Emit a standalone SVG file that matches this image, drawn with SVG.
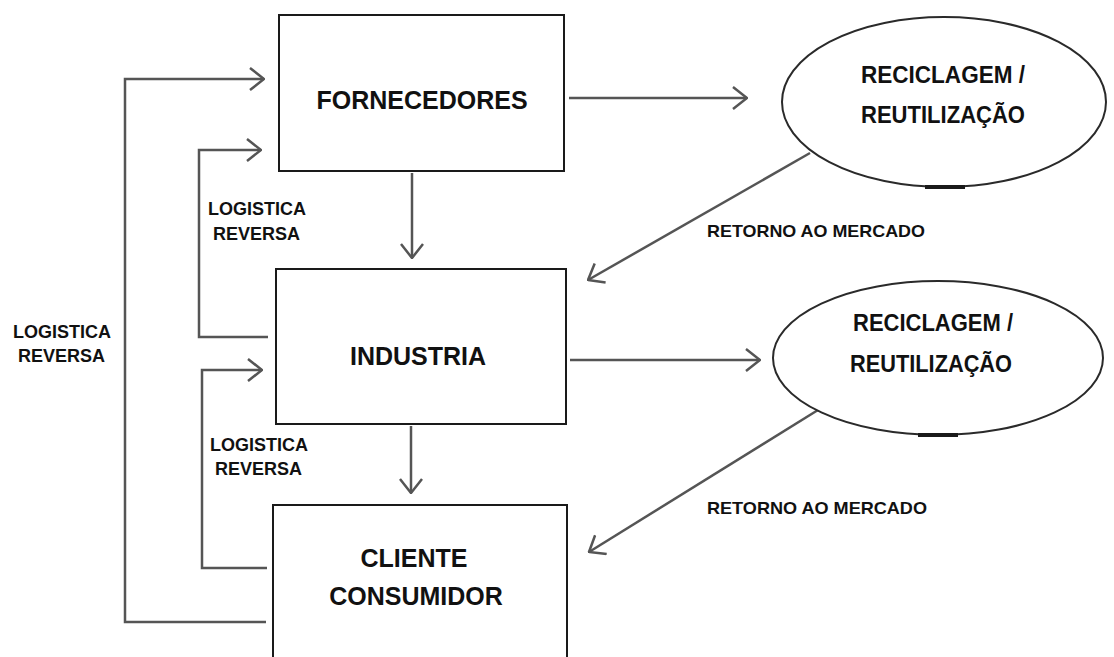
<svg xmlns="http://www.w3.org/2000/svg" width="1114" height="657" viewBox="0 0 1114 657">
  <defs>
    <style>
      .box { fill: #ffffff; stroke: #1a1a1a; stroke-width: 2; }
      .ell { fill: #ffffff; stroke: #2a2a2a; stroke-width: 2; }
      .conn { fill: none; stroke: #555555; stroke-width: 2.5; }
      .big { font-family: "Liberation Sans", Arial, sans-serif; font-weight: bold; font-size: 25px; fill: #111111; text-anchor: middle; }
      .ellt { font-family: "Liberation Sans", Arial, sans-serif; font-weight: bold; font-size: 24px; fill: #111111; text-anchor: middle; }
      .lbl { font-family: "Liberation Sans", Arial, sans-serif; font-weight: bold; font-size: 18px; fill: #111111; }
      .ret { font-family: "Liberation Sans", Arial, sans-serif; font-weight: bold; font-size: 17px; fill: #111111; }
    </style>
    <marker id="arr" markerUnits="userSpaceOnUse" viewBox="0 0 16 24" refX="15" refY="12" markerWidth="16" markerHeight="24" orient="auto">
      <path d="M1,1 L15,12 L1,23" fill="none" stroke="#555555" stroke-width="2.5"/>
    </marker>
  </defs>
  <rect width="1114" height="657" fill="#ffffff"/>

  <g id="connectors">
    <path class="conn" d="M266,622 H125 V79 H264" marker-end="url(#arr)"/>
    <path class="conn" d="M268,337 H199 V150 H261" marker-end="url(#arr)"/>
    <path class="conn" d="M267,568 H202 V370 H262" marker-end="url(#arr)"/>
    <path class="conn" d="M412,173 V258" marker-end="url(#arr)"/>
    <path class="conn" d="M411,426 V493" marker-end="url(#arr)"/>
    <path class="conn" d="M569,98 H747" marker-end="url(#arr)"/>
    <path class="conn" d="M570,360 H760" marker-end="url(#arr)"/>
    <path class="conn" d="M810,153 L588,280" marker-end="url(#arr)"/>
    <path class="conn" d="M818,410 L589,552" marker-end="url(#arr)"/>
  </g>

  <g id="fornecedores">
    <rect class="box" x="279" y="15" width="285" height="156"/>
    <text class="big" x="422" y="109">FORNECEDORES</text>
  </g>

  <g id="industria">
    <rect class="box" x="276" y="269" width="290" height="155"/>
    <text class="big" x="418" y="365">INDUSTRIA</text>
  </g>

  <g id="cliente">
    <rect class="box" x="273" y="505" width="294" height="180"/>
    <text class="big" x="414" y="567">CLIENTE</text>
    <text class="big" x="416" y="605">CONSUMIDOR</text>
  </g>

  <g id="reciclagem1">
    <ellipse class="ell" cx="944" cy="102" rx="162" ry="85"/>
    <line x1="925" y1="187" x2="965" y2="187" stroke="#1a1a1a" stroke-width="4"/>
    <text class="ellt" x="943" y="83" textLength="164" lengthAdjust="spacingAndGlyphs">RECICLAGEM /</text>
    <text class="ellt" x="943" y="123" textLength="164" lengthAdjust="spacingAndGlyphs">REUTILIZAÇÃO</text>
  </g>

  <g id="reciclagem2">
    <ellipse class="ell" cx="938" cy="358" rx="165" ry="77"/>
    <line x1="918" y1="435" x2="958" y2="435" stroke="#1a1a1a" stroke-width="4"/>
    <text class="ellt" x="933" y="331" textLength="160" lengthAdjust="spacingAndGlyphs">RECICLAGEM /</text>
    <text class="ellt" x="931" y="372" textLength="162" lengthAdjust="spacingAndGlyphs">REUTILIZAÇÃO</text>
  </g>

  <g id="labels">
    <text class="lbl" x="13" y="338">LOGISTICA</text>
    <text class="lbl" x="18" y="362">REVERSA</text>
    <text class="lbl" x="208" y="215">LOGISTICA</text>
    <text class="lbl" x="213" y="240">REVERSA</text>
    <text class="lbl" x="210" y="451">LOGISTICA</text>
    <text class="lbl" x="215" y="475">REVERSA</text>
    <text class="ret" x="707" y="237" textLength="218" lengthAdjust="spacingAndGlyphs">RETORNO AO MERCADO</text>
    <text class="ret" x="707" y="514" textLength="220" lengthAdjust="spacingAndGlyphs">RETORNO AO MERCADO</text>
  </g>
</svg>
